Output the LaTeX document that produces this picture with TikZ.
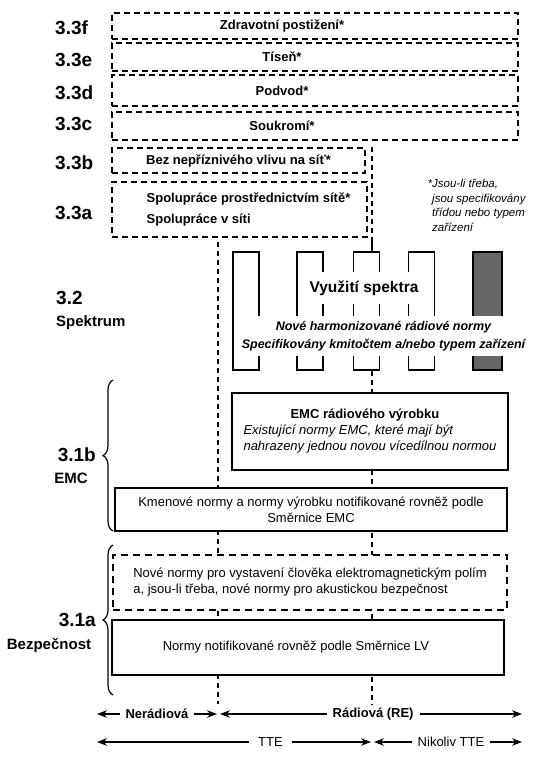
\documentclass[tikz,border=0pt]{standalone}
\usepackage{fontspec}
\setmainfont{Liberation Sans}
\usetikzlibrary{positioning, arrows.meta, decorations.pathreplacing, backgrounds}

\begin{document}
\begin{tikzpicture}[x=1pt, y=-1pt, >={Stealth[length=10pt, width=7.5pt]},
  secnum/.style={font=\fontsize{19pt}{22pt}\selectfont\bfseries, anchor=west, inner sep=0pt},
  secname/.style={font=\fontsize{15pt}{18pt}\selectfont\bfseries, inner sep=0pt},
  topbox/.style={draw, line width=2pt, dash pattern=on 6pt off 4pt, minimum width=406pt,
    inner sep=0pt, font=\fontsize{13pt}{16pt}\selectfont\bfseries},
  normbox/.style={draw, line width=1.3pt, fill=white, inner sep=0pt,
    font=\fontsize{13pt}{16pt}\selectfont},
  dnormbox/.style={normbox, line width=2pt, dash pattern=on 7pt off 5pt},
  band/.style={draw, line width=1.6pt, minimum width=26pt, minimum height=118pt, inner sep=0pt},
  rail/.style={line width=1.4pt, dash pattern=on 5pt off 4pt},
  rangearrow/.style={<->, line width=1.2pt},
  rangelbl/.style={fill=white, inner xsep=6pt, inner ysep=1pt, font=\fontsize{13pt}{16pt}\selectfont},
  curly/.style={decorate, decoration={brace, amplitude=10pt}, line width=1.2pt}]

\useasboundingbox (0,0) rectangle (553,765);

% --- 3.3 essential requirements ---
\node[topbox, minimum height=26pt] (zdrav) at (315,26) {Zdravotní postižení*\hspace*{66pt}};
\node[topbox, minimum height=28pt] (tisen) at (315,57) {Tíseň*\hspace*{66pt}};
\node[topbox, minimum height=31pt] (podvod) at (315,90.5) {Podvod*\hspace*{66pt}};
\node[topbox, minimum height=28pt] (soukr) at (315,126) {Soukromí*\hspace*{66pt}};
\node[topbox, minimum width=253pt, minimum height=25pt] (bezvliv) at (238.5,160.5) {Bez nepříznivého vlivu na síť*};
\node[topbox, minimum width=255pt, minimum height=55pt, align=left] (spoluprace) at (239.5,209.5)
  {\hspace*{18pt}Spolupráce prostřednictvím sítě*\\[5pt]\hspace*{18pt}Spolupráce v síti};

\node[secnum] (l33f) at (55,28) {3.3f};
\node[secnum] (l33e) at (55,60) {3.3e};
\node[secnum] (l33d) at (55,93) {3.3d};
\node[secnum] (l33c) at (55,124) {3.3c};
\node[secnum] (l33b) at (55,163) {3.3b};
\node[secnum] (l33a) at (55,213) {3.3a};

% --- Footnote ---
\node[anchor=north west, align=left, inner sep=0pt,
  font=\fontsize{11.5pt}{14.5pt}\selectfont\itshape] (fnote) at (432,179)
  {\llap{*}Jsou-li třeba,\\jsou specifikovány\\třídou nebo typem\\zařízení};

% --- 3.2 Spectrum ---
\node[band] (band1) at (246,311) {};
\node[band] (band2) at (310,311) {};
\node[band] (band3) at (366.5,311) {};
\node[band] (band4) at (421.5,311) {};
\node[band, fill=black!60, minimum width=29pt] (band5) at (487.5,311) {};

\node[fill=white, inner xsep=8pt, inner ysep=9pt,
  font=\fontsize{15.5pt}{18pt}\selectfont\bfseries] (vyuziti) at (364,288) {Využití spektra};
\node[fill=white, align=center, inner xsep=1pt, inner ysep=5pt,
  font=\fontsize{12.5pt}{18pt}\selectfont\bfseries\itshape] (hrnormy) at (383.5,336)
  {Nové harmonizované rádiové normy\\Specifikovány kmitočtem a/nebo typem zařízení};

\node[secnum] (l32) at (56,298) {3.2};
\node[secname, anchor=west] (spektrum) at (56,323) {Spektrum};

% --- 3.1b EMC ---
\node[normbox, minimum width=276pt, minimum height=77pt, align=left] (emcradio) at (370,431.5)
  {\hspace*{47pt}\textbf{EMC rádiového výrobku}\\\textit{Existující normy EMC, které mají být}\\\textit{nahrazeny jednou novou vícedílnou normou}};
\node[normbox, minimum width=392pt, minimum height=43pt, align=center] (kmenove) at (311,509.5)
  {Kmenové normy a normy výrobku notifikované rovněž podle\\Směrnice EMC};

\coordinate (emcTop) at (113,380);
\coordinate (emcBot) at (113,531);
\draw[curly] (emcBot) -- (emcTop);
\node[secnum, anchor=east] (l31b) at (96,455) {3.1b};
\node[secname] (emc) at (71,478) {EMC};

% --- 3.1a Safety ---
\node[dnormbox, minimum width=394pt, minimum height=55pt, align=left] (expozice) at (310,582.5)
  {Nové normy pro vystavení člověka elektromagnetickým polím\\a, jsou-li třeba, nové normy pro akustickou bezpečnost};
\node[normbox, minimum width=392pt, minimum height=55pt] (lvnormy) at (308,647.5)
  {Normy notifikované rovněž podle Směrnice LV\hspace*{24pt}};

\coordinate (bezTop) at (113,545);
\coordinate (bezBot) at (113,695);
\draw[curly] (bezBot) -- (bezTop);
\node[secnum, anchor=east] (l31a) at (96,620) {3.1a};
\node[secname] (bezpecnost) at (49,645) {Bezpečnost};

% --- Dashed dividers ---
\coordinate (neradTop) at (218,242);
\coordinate (neradBot) at (218,704);
\coordinate (radTop) at (372,147);
\coordinate (radMid) at (372,240);
\coordinate (radBot) at (372,704);
\begin{scope}[on background layer]
\draw[rail] (neradTop) -- (neradBot);
\draw[rail] (radTop) -- (radMid);
\draw[line width=1.4pt] (radMid) -- (band3.north -| radMid);
\draw[rail] (band3.south -| radBot) -- (radBot);
\end{scope}

% --- Ranges ---
\coordinate (rowAL) at (97,714);
\coordinate (rowAM1) at (217,714);
\coordinate (rowAM2) at (220,714);
\coordinate (rowAR) at (522,714);
\coordinate (rowBL) at (97,742);
\coordinate (rowBM1) at (371,742);
\coordinate (rowBM2) at (374,742);
\coordinate (rowBR) at (522,742);

\draw[rangearrow] (rowAL) -- node[rangelbl, font=\fontsize{13pt}{16pt}\selectfont\bfseries] (nerad) {Nerádiová} (rowAM1);
\draw[rangearrow] (rowAM2) -- node[rangelbl, pos=.507, font=\fontsize{13pt}{16pt}\selectfont\bfseries] (rad) {Rádiová (RE)} (rowAR);
\draw[rangearrow] (rowBL) -- node[rangelbl, pos=.633, inner xsep=9pt] (tte) {TTE} (rowBM1);
\draw[rangearrow] (rowBM2) -- node[rangelbl, pos=.52] (nette) {Nikoliv TTE} (rowBR);

\end{tikzpicture}
\end{document}
